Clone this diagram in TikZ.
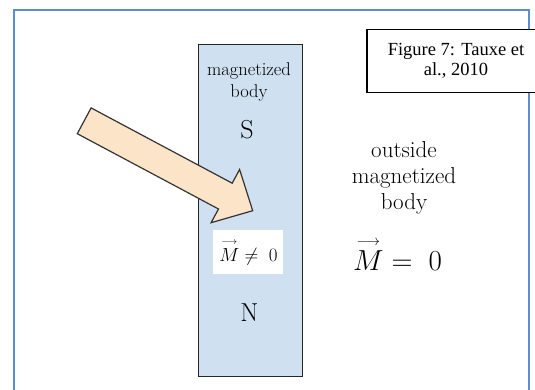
\RequirePackage{fix-cm}
\documentclass[tikz,border=0pt]{standalone}
\usepackage{amsmath}
\usepackage{fontspec}
\newfontfamily\capfont{Liberation Serif}
\newcommand{\magvec}[1]{\overset{\scriptscriptstyle\longrightarrow}{#1}}
\definecolor{frameblue}{RGB}{91,142,211}
\definecolor{magblue}{RGB}{207,224,241}
\definecolor{peach}{RGB}{252,228,200}
\tikzset{
  every node/.style={
    inner sep=0pt,
    text=black
  },
  frame/.style={
    draw=frameblue,
    line width=2pt
  },
  magnet/.style={
    draw=black!85,
    line width=1.6pt,
    fill=magblue,
    minimum width=104pt,
    minimum height=332pt
  },
  caption/.style={
    draw=black,
    line width=1.3pt,
    fill=white,
    minimum width=178pt,
    minimum height=63pt,
    align=center,
    font=\fontsize{18.5}{19.5}\selectfont\capfont
  },
  inlabel/.style={
    align=center,
    font=\fontsize{18.5}{22}\selectfont
  },
  pole/.style={
    font=\fontsize{26}{28}\selectfont
  },
  outlabel/.style={
    align=center,
    font=\fontsize{23}{26}\selectfont
  },
  mbox/.style={
    fill=white,
    minimum width=70pt,
    minimum height=44pt,
    font=\fontsize{19}{22}\selectfont
  },
  blockarrow/.style={
    draw=black!80,
    line width=1.2pt,
    fill=peach,
    line join=miter
  }
}

\begin{document}
\begin{tikzpicture}[x=1pt,y=-1pt]
    \useasboundingbox (0,0) rectangle (535,390);
    %-------------------------
    % frame and caption
    %-------------------------
    \draw[frame] (14.3,395) -- (14.3,10.3) -- (529,10.3) -- (529,395);
    \node[caption] (cap) at (456,61) {\capfont Figure 7: Tauxe et\\\capfont al., 2010};

    %-------------------------
    % magnetized body
    %-------------------------
    \node[magnet] (mag) at (250.3,210.5) {};
    \node[inlabel] (magname) at (249,82) {magnetized\\body};
    \node[pole] (south) at (247,130) {S};
    \node[mbox] (inside) at (248.4,252.2) {$\magvec{M} \neq\; 0$};
    \node[pole] (north) at (249.5,312.5) {N};

    % big arrow
    \draw[blockarrow] (91.1,107.9) -- (232.2,183.2) -- (239.6,169.5)
      -- (252.7,210.7) -- (211.1,222.7) -- (218.5,209) -- (77.3,133.7) -- cycle;

    %-------------------------
    % outside
    %-------------------------
    \node[outlabel] (outname) at (404,177.5) {outside\\magnetized\\body};
    \node[font=\fontsize{29}{32}\selectfont] (outside) at (397.5,254) {$\magvec{M} =\; 0$};
\end{tikzpicture}
\end{document}
